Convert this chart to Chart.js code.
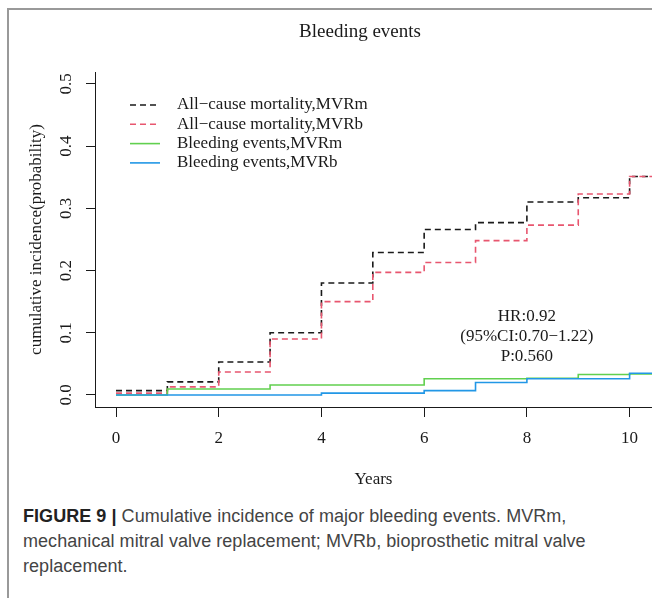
<!DOCTYPE html>
<html>
<head>
<meta charset="utf-8">
<script src="https://cdn.jsdelivr.net/npm/chart.js@4.4.0/dist/chart.umd.min.js"></script>
<style>
html,body{margin:0;padding:0;background:#fff;}
#wrap{position:relative;width:652px;height:598px;overflow:hidden;background:#fff;}
#frame{position:absolute;left:7px;top:8px;width:720px;height:660px;border-left:2px solid #999;border-top:2px solid #999;}
#c{position:absolute;left:0;top:0;}
#cap{position:absolute;left:23px;top:504px;width:625px;white-space:nowrap;font-family:"Liberation Sans",Arial,sans-serif;font-size:18px;letter-spacing:0.05px;line-height:25px;color:#444;}
#cap b{color:#222;}
</style>
</head>
<body>
<div id="wrap">
  <div id="frame"></div>
  <canvas id="c" width="652" height="500"></canvas>
  <div id="cap"><b>FIGURE 9 |</b> Cumulative incidence of major bleeding events. MVRm,<br>mechanical mitral valve replacement; MVRb, bioprosthetic mitral valve<br>replacement.</div>
</div>
<script>
// ---- data ----
const years = [0, 1, 2, 3, 4, 5, 6, 7, 8, 9, 10, 10.6];
const mortalityMVRm = [0.007, 0.021, 0.053, 0.100, 0.180, 0.229, 0.266, 0.277, 0.310, 0.317, 0.351, 0.351];
const mortalityMVRb = [0.003, 0.013, 0.037, 0.090, 0.150, 0.197, 0.213, 0.248, 0.273, 0.323, 0.351, 0.351];
const bleedingMVRm  = [0.000, 0.0096, 0.0096, 0.016, 0.016, 0.016, 0.026, 0.026, 0.027, 0.033, 0.034, 0.034];
const bleedingMVRb  = [0.000, 0.000, 0.000, 0.000, 0.003, 0.003, 0.007, 0.020, 0.026, 0.026, 0.035, 0.035];
const seriesLabels = ["All\u2212cause mortality,MVRm", "All\u2212cause mortality,MVRb", "Bleeding events,MVRm", "Bleeding events,MVRb"];
const xTickValues = [0, 2, 4, 6, 8, 10];
const yTickValues = [0, 0.1, 0.2, 0.3, 0.4, 0.5];
const chartTitle = "Bleeding events";
const xTitle = "Years";
const yTitle = "cumulative incidence(probability)";
const annotationLines = ["HR:0.92", "(95%CI:0.70\u22121.22)", "P:0.560"];

const colors = ["#1a1a1a", "#E8566F", "#61D04F", "#2297E6"];
const dashes = [[6, 4], [6, 4], [], []];
const SERIF = '"Liberation Serif", "Times New Roman", serif';
const seriesValues = [mortalityMVRm, mortalityMVRb, bleedingMVRm, bleedingMVRb];

const datasets = seriesValues.map((vals, i) => ({
  label: seriesLabels[i],
  data: years.map((t, k) => ({x: t, y: vals[k]})),
  borderColor: colors[i],
  borderWidth: 1.6,
  borderDash: dashes[i],
  stepped: 'before',
  pointRadius: 0,
  fill: false,
  order: 4 - i
}));

const textPlugin = {
  id: 'texts',
  afterDraw(chart) {
    const ctx = chart.ctx;
    const xs = chart.scales.x, ys = chart.scales.y;
    ctx.save();
    ctx.fillStyle = '#1a1a1a';
    ctx.textBaseline = 'middle';
    // title
    ctx.font = '19px ' + SERIF;
    ctx.textAlign = 'center';
    ctx.fillText(chartTitle, 360, 32);
    // legend
    ctx.font = '17px ' + SERIF;
    ctx.textAlign = 'left';
    seriesLabels.forEach((lab, i) => {
      const y = 105 + i * 19.3;
      ctx.strokeStyle = colors[i];
      ctx.lineWidth = 1.6;
      ctx.setLineDash(dashes[i]);
      ctx.beginPath();
      ctx.moveTo(130, y);
      ctx.lineTo(160, y);
      ctx.stroke();
      ctx.fillText(lab, 177, y);
    });
    ctx.setLineDash([]);
    // annotation
    ctx.textAlign = 'center';
    const ax = xs.getPixelForValue(8);
    const ay = ys.getPixelForValue(0.126);
    annotationLines.forEach((t, i) => ctx.fillText(t, ax, ay + i * 20));
    ctx.restore();
  }
};

new Chart(document.getElementById('c'), {
  type: 'line',
  data: {datasets},
  options: {
    responsive: false,
    devicePixelRatio: 1,
    animation: false,
    layout: {padding: {left: 0, right: 0, top: 72, bottom: 0}},
    plugins: {legend: {display: false}, tooltip: {enabled: false}, title: {display: false}},
    scales: {
      x: {
        type: 'linear',
        min: -0.409,
        max: 10.436,
        afterBuildTicks: s => { s.ticks = xTickValues.map(v => ({value: v})); },
        afterFit: s => { s.height = 93; },
        grid: {drawOnChartArea: false, drawTicks: true, tickLength: 10, color: '#1a1a1a', lineWidth: 1},
        border: {display: true, color: '#1a1a1a', width: 1},
        ticks: {color: '#1a1a1a', font: {family: SERIF, size: 17}, padding: 11, autoSkip: false, maxRotation: 0, minRotation: 0},
        title: {display: true, text: xTitle, color: '#1a1a1a', font: {family: SERIF, size: 17}, padding: {top: 0, bottom: 10}}
      },
      y: {
        type: 'linear',
        min: -0.0193,
        max: 0.519,
        afterBuildTicks: s => { s.ticks = yTickValues.map(v => ({value: v})); },
        afterFit: s => { s.width = 95; },
        grid: {drawOnChartArea: false, drawTicks: true, tickLength: 9, color: '#1a1a1a', lineWidth: 1},
        border: {display: true, color: '#1a1a1a', width: 1},
        ticks: {color: '#1a1a1a', font: {family: SERIF, size: 17}, padding: 9, autoSkip: false, minRotation: 90, maxRotation: 90, crossAlign: 'center',
                callback: v => v.toFixed(1)},
        title: {display: true, text: yTitle, color: '#1a1a1a', font: {family: SERIF, size: 17}, padding: {top: 26, bottom: 0}}
      }
    }
  },
  plugins: [textPlugin]
});
</script>
</body>
</html>
